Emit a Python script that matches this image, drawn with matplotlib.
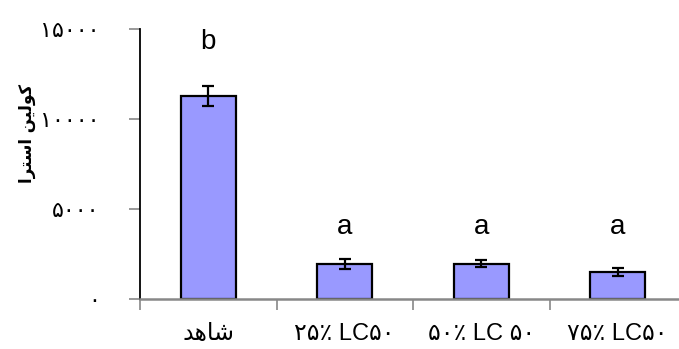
import numpy as np
import matplotlib
matplotlib.use("Agg")
import matplotlib.pyplot as plt
from matplotlib.ticker import FixedLocator

plt.rcParams["font.family"] = ["Liberation Sans", "DejaVu Sans"]

# Arabic text is stored in visual (left-to-right) order with presentation forms,
# since matplotlib does no bidi reordering or glyph joining.
categories = [
    "\uFEAA\uFEEB\uFE8E\uFEB7",          # shahed (control)
    "\u06F2\u06F5\u066A LC\u06F5\u06F0",
    "\u06F5\u06F0\u066A LC \u06F5\u06F0",
    "\u06F7\u06F5\u066A LC\u06F5\u06F0",
]
values = [11300, 1950, 1950, 1500]
errors = [560, 280, 190, 240]
letters = ["b", "a", "a", "a"]
letter_y = [13900, 3600, 3600, 3600]

yticks = [0, 5000, 10000, 15000]
ytick_labels = ["\u06F0", "\u06F5\u06F0\u06F0\u06F0",
                "\u06F1\u06F0\u06F0\u06F0\u06F0", "\u06F1\u06F5\u06F0\u06F0\u06F0"]
ylabel = ("\uFE8D\uFEAE\uFE98\uFEB3\uFE8D "
          "\uFEE6\uFEF4\uFEDF\uFEEE\uFB90")

fig = plt.figure(figsize=(6.79, 3.49), dpi=100)
ax = fig.add_axes([140 / 679, 1 - 299 / 349, 539 / 679, 270 / 349])

x = np.arange(len(values))
ax.bar(x, values, width=0.40, color="#9999FF", edgecolor="black",
       linewidth=1.6, zorder=1)
ax.errorbar(x, values, yerr=errors, fmt="none", ecolor="black",
            elinewidth=1.6, capsize=4.5, capthick=1.6, zorder=3)
for xi, lab, ly in zip(x, letters, letter_y):
    ax.text(xi, ly, lab, ha="center", va="baseline", fontsize=20)

ax.set_xlim(-0.5, -0.5 + 539 / 136.5)
ax.set_ylim(0, 15000)

ax.set_yticks(yticks)
ax.set_yticklabels(ytick_labels, fontsize=16, family="DejaVu Sans")
ax.tick_params(axis="y", length=8, width=1.2, color="#888888", pad=21)

ax.set_xticks(x)
ax.set_xticklabels(categories, fontsize=17)
ax.tick_params(axis="x", which="major", length=0, pad=17)
ax.xaxis.set_minor_locator(FixedLocator(np.arange(-0.5, 3.5, 1.0)))
ax.tick_params(axis="x", which="minor", length=8, width=1.2, color="#888888")

ax.set_ylabel(ylabel, fontsize=12, fontweight="bold", family="DejaVu Sans")
ax.yaxis.set_label_coords(-0.193, 0.615)

for s in ("top", "right"):
    ax.spines[s].set_visible(False)
ax.spines["left"].set_color("black")
ax.spines["left"].set_linewidth(1.3)
ax.spines["bottom"].set_color("#888888")
ax.spines["bottom"].set_linewidth(1.8)

fig.savefig("out.png", dpi=100)
